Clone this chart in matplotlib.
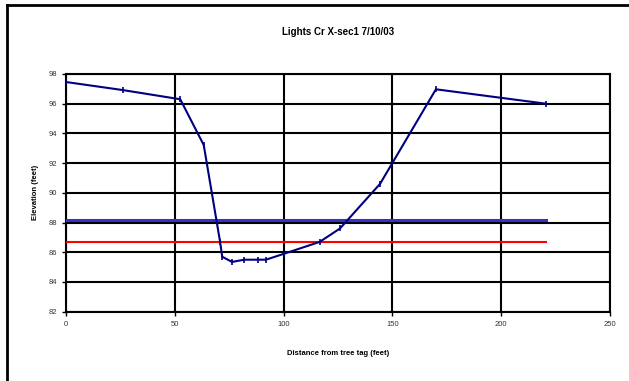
import matplotlib
matplotlib.use('Agg')
import matplotlib.pyplot as plt
from matplotlib.lines import Line2D

plt.rcParams['font.family'] = ['Liberation Sans', 'DejaVu Sans']

# Survey points across the creek
distance = [0, 26.0, 52.5, 63.3, 70.8, 71.8, 76.3, 81.9, 88.4, 91.9, 100.2, 116.6, 125.9, 144.3, 170.0, 220.6]
elevation = [97.46, 96.92, 96.3, 93.22, 86.72, 85.7, 85.35, 85.5, 85.5, 85.5, 85.9, 86.7, 87.6, 90.6, 96.97, 96.0]

# Reference water levels
line_x = [0, 220.6]
blue_level = [88.15, 88.15]
red_level = [86.7, 86.7]

fig = plt.figure(figsize=(6.29, 3.81), dpi=100)
ax = fig.add_axes([0.1049, 0.1819, 0.8649, 0.6239])

ax.plot(line_x, blue_level, color='#3333cc', lw=2.2, zorder=3)
ax.plot(line_x, red_level, color='#ff0000', lw=1.5, zorder=3)
ax.plot(distance, elevation, color='#000080', lw=1.5, marker='|',
        markersize=4, markeredgewidth=1.2, zorder=4)

ax.set_xlim(0, 250)
ax.set_ylim(82, 98)
ax.set_xticks(range(0, 251, 50))
ax.set_yticks(range(82, 99, 2))
ax.grid(True, color='black', lw=1.5)
for s in ax.spines.values():
    s.set_linewidth(1.5)
ax.tick_params(labelsize=5.5, labelcolor='#333333', length=3, width=1)

ax.set_title('Lights Cr X-sec1 7/10/03', fontsize=7, fontweight='bold', pad=28)
ax.set_xlabel('Distance from tree tag (feet)', fontsize=5.5, fontweight='bold', labelpad=16)
ax.set_ylabel('Elevation (feet)', fontsize=5.5, fontweight='bold', labelpad=7)

# chart frame (left and top edges visible)
fy = 1 - 5 / 381
fx = 7 / 629
fig.add_artist(Line2D([fx, fx], [0, fy], color='black', lw=2, transform=fig.transFigure))
fig.add_artist(Line2D([fx, 1], [fy, fy], color='black', lw=2, transform=fig.transFigure))

fig.savefig('out.png', dpi=100)
